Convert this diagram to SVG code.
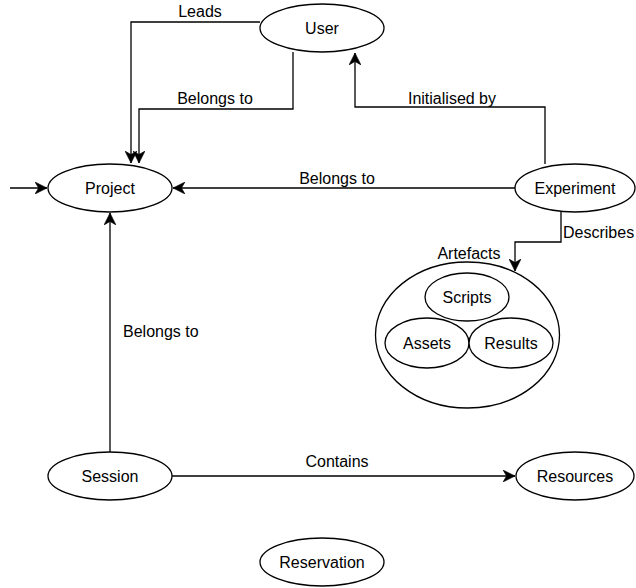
<svg xmlns="http://www.w3.org/2000/svg" width="636" height="588" viewBox="0 0 636 588">
<style>
.n{fill:#fff;stroke:#000;stroke-width:1.3}
.t{font-family:"Liberation Sans",Arial,Helvetica,sans-serif;font-size:16px;fill:#000;text-anchor:middle}
.l{font-family:"Liberation Sans",Arial,Helvetica,sans-serif;font-size:16px;fill:#000}
.e{fill:none;stroke:#000;stroke-width:1.3}
</style>
<defs>
<marker id="a" markerUnits="userSpaceOnUse" markerWidth="12" markerHeight="12" refX="10" refY="5" orient="auto" viewBox="0 0 10 10">
<path d="M0,0 L10,5 L0,10 L3,5 Z" fill="#000" stroke="#000" stroke-width="0.5"/>
</marker>
</defs>
<g id="connectors">
<path class="e" d="M260,22 H131 V163" marker-end="url(#a)"/>
<path class="e" d="M293,52 V109 H139 V163" marker-end="url(#a)"/>
<path class="e" d="M545,164 V107 H355 V53" marker-end="url(#a)"/>
<path class="e" d="M515,188 H173" marker-end="url(#a)"/>
<path class="e" d="M10,188 H47" marker-end="url(#a)"/>
<path class="e" d="M561,212 V242 H515 V271" marker-end="url(#a)"/>
<path class="e" d="M110,452 V213" marker-end="url(#a)"/>
<path class="e" d="M172,476 H515" marker-end="url(#a)"/>
<text class="t" x="200" y="17">Leads</text>
<text class="t" x="215" y="104">Belongs to</text>
<text class="t" x="452" y="104">Initialised by</text>
<text class="t" x="337" y="184">Belongs to</text>
<text class="l" x="563" y="238">Describes</text>
<text class="l" x="123" y="337">Belongs to</text>
<text class="t" x="337" y="467">Contains</text>
</g>
<g id="user"><ellipse class="n" cx="322" cy="28" rx="62" ry="24"/><text class="t" x="322" y="34">User</text></g>
<g id="project"><ellipse class="n" cx="110" cy="188" rx="62" ry="24"/><text class="t" x="110" y="194">Project</text></g>
<g id="experiment"><ellipse class="n" cx="575" cy="188" rx="60" ry="24"/><text class="t" x="575" y="194">Experiment</text></g>
<g id="artefacts">
<text class="t" x="469" y="259">Artefacts</text>
<ellipse class="n" cx="467.5" cy="335" rx="92" ry="73"/>
<g id="scripts"><ellipse class="n" cx="467" cy="297" rx="42" ry="24"/><text class="t" x="467" y="303">Scripts</text></g>
<g id="assets"><ellipse class="n" cx="427" cy="343" rx="42" ry="25"/><text class="t" x="427" y="349">Assets</text></g>
<g id="results"><ellipse class="n" cx="511" cy="343" rx="42" ry="25"/><text class="t" x="511" y="349">Results</text></g>
</g>
<g id="session"><ellipse class="n" cx="110" cy="476" rx="62" ry="24"/><text class="t" x="110" y="482">Session</text></g>
<g id="resources"><ellipse class="n" cx="575" cy="476" rx="59" ry="24"/><text class="t" x="575" y="482">Resources</text></g>
<g id="reservation"><ellipse class="n" cx="322" cy="562" rx="62" ry="24"/><text class="t" x="322" y="568">Reservation</text></g>
</svg>
